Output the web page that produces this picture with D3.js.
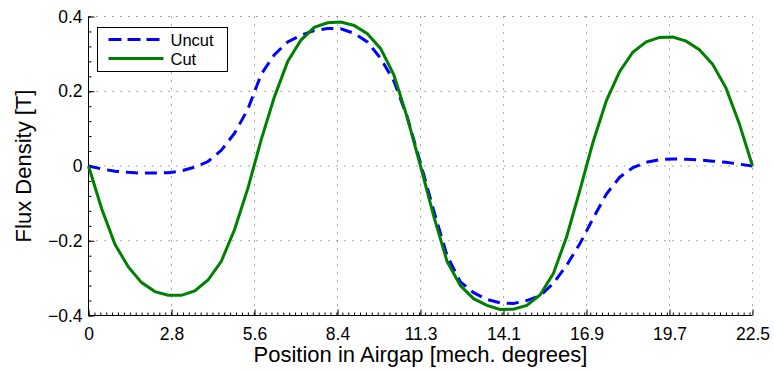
<!DOCTYPE html>
<html>
<head>
<meta charset="utf-8">
<script src="https://cdn.jsdelivr.net/npm/d3@7"></script>
<style>
  body { margin: 0; background: #fff; }
  svg text { font-family: "Liberation Sans", Arial, sans-serif; fill: #000; }
</style>
</head>
<body>
<div id="chart"></div>
<script>
// Flux density along the airgap, cut vs uncut
const positions = [0, 0.45, 0.9, 1.35, 1.8, 2.25, 2.7, 3.15, 3.6, 4.05, 4.5, 4.95, 5.4, 5.85, 6.3, 6.75,
  7.2, 7.65, 8.1, 8.55, 9.0, 9.45, 9.9, 10.35, 10.8, 11.25, 11.7, 12.15, 12.6, 13.05, 13.5, 13.95,
  14.4, 14.85, 15.3, 15.75, 16.2, 16.65, 17.1, 17.55, 18.0, 18.45, 18.9, 19.35, 19.8, 20.25, 20.7,
  21.15, 21.6, 22.05, 22.5];
const uncut = [0, -0.008, -0.014, -0.017, -0.019, -0.019, -0.018, -0.013, -0.003, 0.012, 0.042, 0.088,
  0.152, 0.245, 0.298, 0.332, 0.35, 0.362, 0.368, 0.367, 0.355, 0.332, 0.288, 0.227, 0.131, 0.008,
  -0.12, -0.24, -0.31, -0.339, -0.357, -0.366, -0.368, -0.36, -0.347, -0.314, -0.266, -0.208, -0.14,
  -0.075, -0.03, -0.004, 0.01, 0.017, 0.019, 0.018, 0.016, 0.013, 0.01, 0.005, 0];
const cut = [0, -0.115, -0.21, -0.27, -0.312, -0.336, -0.346, -0.346, -0.334, -0.305, -0.255, -0.17,
  -0.06, 0.07, 0.185, 0.28, 0.337, 0.371, 0.383, 0.385, 0.376, 0.354, 0.314, 0.243, 0.13, 0.0,
  -0.135, -0.255, -0.32, -0.355, -0.373, -0.384, -0.383, -0.373, -0.345, -0.288, -0.19, -0.065,
  0.065, 0.175, 0.253, 0.305, 0.332, 0.344, 0.345, 0.334, 0.311, 0.272, 0.209, 0.114, 0];
const seriesNames = ["Uncut", "Cut"];
const xTicks = [0, 2.8125, 5.625, 8.4375, 11.25, 14.0625, 16.875, 19.6875, 22.5];
const xTickLabels = ["0", "2.8", "5.6", "8.4", "11.3", "14.1", "16.9", "19.7", "22.5"];
const yTicks = [-0.4, -0.2, 0, 0.2, 0.4];
const yTickLabels = ["\u22120.4", "\u22120.2", "0", "0.2", "0.4"];

const width = 774, height = 372;
const margin = { top: 16.5, right: 21.5, bottom: 56.5, left: 88.5 };

const svg = d3.select("#chart")
  .append("svg")
  .attr("width", width)
  .attr("height", height);

const x = d3.scaleLinear().domain([0, 22.5]).range([margin.left, width - margin.right]);
const y = d3.scaleLinear().domain([-0.4, 0.4]).range([height - margin.bottom, margin.top]);

// dotted grid
const grid = svg.append("g")
  .attr("stroke", "#555")
  .attr("stroke-width", 1)
  .attr("stroke-dasharray", "1,7");
grid.selectAll(".vg")
  .data(xTicks.slice(1))
  .enter().append("line")
  .attr("x1", d => x(d)).attr("x2", d => x(d))
  .attr("y1", y(0.4)).attr("y2", y(-0.4));
grid.selectAll(".hg")
  .data(yTicks.slice(1))
  .enter().append("line")
  .attr("x1", x(0)).attr("x2", x(22.5))
  .attr("y1", d => y(d)).attr("y2", d => y(d));

// minor ticks
svg.append("g")
  .attr("transform", `translate(0,${y(-0.4)})`)
  .call(d3.axisBottom(x).tickValues(d3.range(0, 22.51, 0.2)).tickSize(-3).tickFormat(""))
  .call(g => g.select(".domain").remove());
svg.append("g")
  .attr("transform", `translate(${x(0)},0)`)
  .call(d3.axisLeft(y).tickValues(d3.range(-0.4, 0.401, 0.04)).tickSize(-3).tickFormat(""))
  .call(g => g.select(".domain").remove());

// major axes
const xAxis = svg.append("g")
  .attr("transform", `translate(0,${y(-0.4)})`)
  .call(d3.axisBottom(x).tickValues(xTicks).tickSize(-6).tickPadding(12)
    .tickFormat((d, i) => xTickLabels[i]));
xAxis.select(".domain").attr("d", `M${x(0)},0H${x(22.5)}`);
xAxis.selectAll("text").attr("font-size", "17.5px").attr("font-family", null);

const yAxis = svg.append("g")
  .attr("transform", `translate(${x(0)},0)`)
  .call(d3.axisLeft(y).tickValues(yTicks).tickSize(-6).tickPadding(6)
    .tickFormat((d, i) => yTickLabels[i]));
yAxis.select(".domain").attr("d", `M0,${y(-0.4)}V${y(0.4)}`);
yAxis.selectAll("text").attr("font-size", "17.5px").attr("font-family", null);

// curves
const pts = (vals) => positions.map((p, i) => [p, vals[i]]);
const line = d3.line().x(d => x(d[0])).y(d => y(d[1]));

svg.append("path")
  .datum(pts(uncut))
  .attr("d", line)
  .attr("fill", "none")
  .attr("stroke", "#0000ff")
  .attr("stroke-width", 3)
  .attr("stroke-dasharray", "12,7");

svg.append("path")
  .datum(pts(cut))
  .attr("d", line)
  .attr("fill", "none")
  .attr("stroke", "#008000")
  .attr("stroke-width", 3);

// axis labels
svg.append("text")
  .attr("x", (x(0) + x(22.5)) / 2)
  .attr("y", 362)
  .attr("text-anchor", "middle")
  .attr("font-size", "22px")
  .text("Position in Airgap [mech. degrees]");

svg.append("text")
  .attr("transform", `translate(31,${y(0)}) rotate(-90)`)
  .attr("text-anchor", "middle")
  .attr("font-size", "22px")
  .text("Flux Density [T]");

// legend
const legend = svg.append("g").attr("transform", "translate(97.5,27.5)");
legend.append("rect")
  .attr("width", 130)
  .attr("height", 44)
  .attr("fill", "#fff")
  .attr("stroke", "#000")
  .attr("stroke-width", 1);

const legendStyles = [
  { color: "#0000ff", dash: "13,6" },
  { color: "#008000", dash: null }
];
seriesNames.forEach((name, i) => {
  const ly = 12 + i * 19;
  legend.append("line")
    .attr("x1", 11).attr("x2", 66)
    .attr("y1", ly).attr("y2", ly)
    .attr("stroke", legendStyles[i].color)
    .attr("stroke-width", 3)
    .attr("stroke-dasharray", legendStyles[i].dash);
  legend.append("text")
    .attr("x", 73)
    .attr("y", ly + 6)
    .attr("font-size", "16.5px")
    .text(name);
});
</script>
</body>
</html>
